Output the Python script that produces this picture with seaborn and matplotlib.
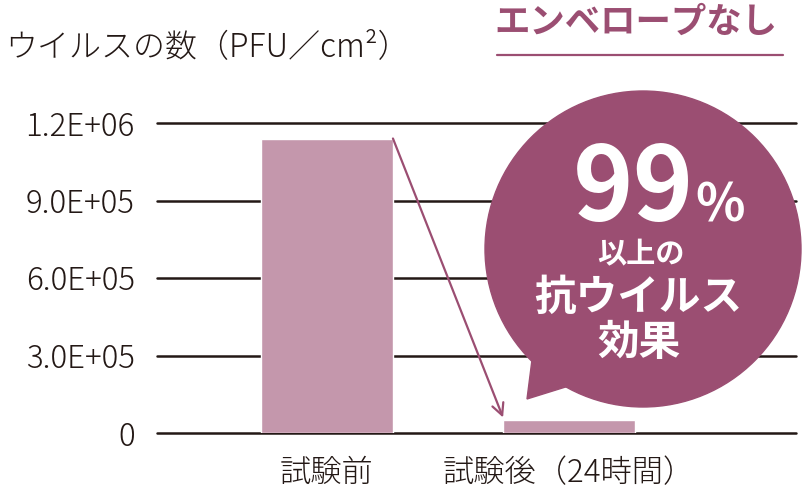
import matplotlib
matplotlib.use("Agg")
import numpy as np
import pandas as pd
import matplotlib.pyplot as plt
from matplotlib.patches import Ellipse, Polygon
import seaborn as sns

sns.set_theme(style="white")
plt.rcParams['font.family'] = ['Noto Sans CJK JP', 'DejaVu Sans']

# --- data ---
categories = ['試験前', '試験後（24時間）']
virus_counts = [1.14e6, 5.0e4]
ytick_values = [0, 3e5, 6e5, 9e5, 1.2e6]
ytick_labels = ['0', '3.0E+05', '6.0E+05', '9.0E+05', '1.2E+06']

BAR = '#c497ac'
PURPLE = '#9b4e72'
INK = '#231815'

W, H = 803, 493
df = pd.DataFrame({'cond': categories, 'pfu': virus_counts})

fig = plt.figure(figsize=(W / 100, H / 100), dpi=100)
# axes box in pixels: x 157..796, y 123..433
ax = fig.add_axes([157 / W, 1 - 433 / H, 639 / W, 310 / H])

bw = 0.545
sns.barplot(data=df, x='cond', y='pfu', color=BAR, width=bw, saturation=1, ax=ax)

ax.set_xlim(-0.7025, 1.938)
ax.set_ylim(0, 1.2e6)
ax.set_yticks(ytick_values)
ax.set_yticklabels(ytick_labels)
ax.set_xlabel('')
ax.set_ylabel('')
ax.set_axisbelow(True)
ax.yaxis.grid(True, color=INK, lw=1.8)
for gl in ax.get_ygridlines():
    gl.set_clip_on(False)
for s in ax.spines.values():
    s.set_visible(False)
ax.tick_params(axis='y', length=0, pad=16, labelsize=22.5, labelcolor=INK)
ax.tick_params(axis='x', length=0, pad=17, labelsize=22.5, labelcolor=INK)
for t in ax.get_xticklabels() + ax.get_yticklabels():
    t.set_fontweight('light')

# arrow from top of first bar to second bar
ax.annotate('', xy=(1 - bw / 2, virus_counts[1] + 1.0e4),
            xytext=(bw / 2, virus_counts[0]),
            arrowprops=dict(arrowstyle='->,head_length=0.7,head_width=0.35',
                            color=PURPLE, lw=1.6, shrinkA=0, shrinkB=0))

# speech bubble (axes coords computed from pixel layout)
def axp(x, y):
    return ((x - 157) / 639, (433 - y) / 310)

r = 158
ax.add_patch(Ellipse(axp(643, 249), 2 * r / 639, 2 * r / 310,
                     transform=ax.transAxes, color=PURPLE, clip_on=False, zorder=5))
ax.add_patch(Polygon([axp(527, 399), axp(533, 352), axp(572, 385)], closed=True,
                     transform=ax.transAxes, color=PURPLE, clip_on=False, zorder=5))

def fp(x, y):
    return (x / W, 1 - y / H)

fig.text(*fp(694, 221), '99', color='white', fontsize=74, fontweight='bold',
         ha='right', va='baseline', zorder=6)
fig.text(*fp(695, 221), '%', color='white', fontsize=37, fontweight='bold',
         ha='left', va='baseline', zorder=6)
fig.text(*fp(641, 254), '以上の', color='white', fontsize=21, fontweight='bold',
         ha='center', va='center', zorder=6)
fig.text(*fp(638, 298), '抗ウイルス', color='white', fontsize=30, fontweight='bold',
         ha='center', va='center', zorder=6)
fig.text(*fp(639, 343), '効果', color='white', fontsize=30, fontweight='bold',
         ha='center', va='center', zorder=6)

# header texts
fig.text(*fp(5, 47), 'ウイルスの数（PFU／cm²）', color=INK, fontsize=23,
         fontweight='light', ha='left', va='center')
fig.text(*fp(636, 22), 'エンベロープなし', color=PURPLE, fontsize=25.5,
         fontweight='bold', ha='center', va='center')
fig.add_artist(plt.Line2D([497 / W, 783 / W], [1 - 55 / H, 1 - 55 / H],
                          color=PURPLE, lw=1.6))

fig.savefig('out.png', dpi=100)
